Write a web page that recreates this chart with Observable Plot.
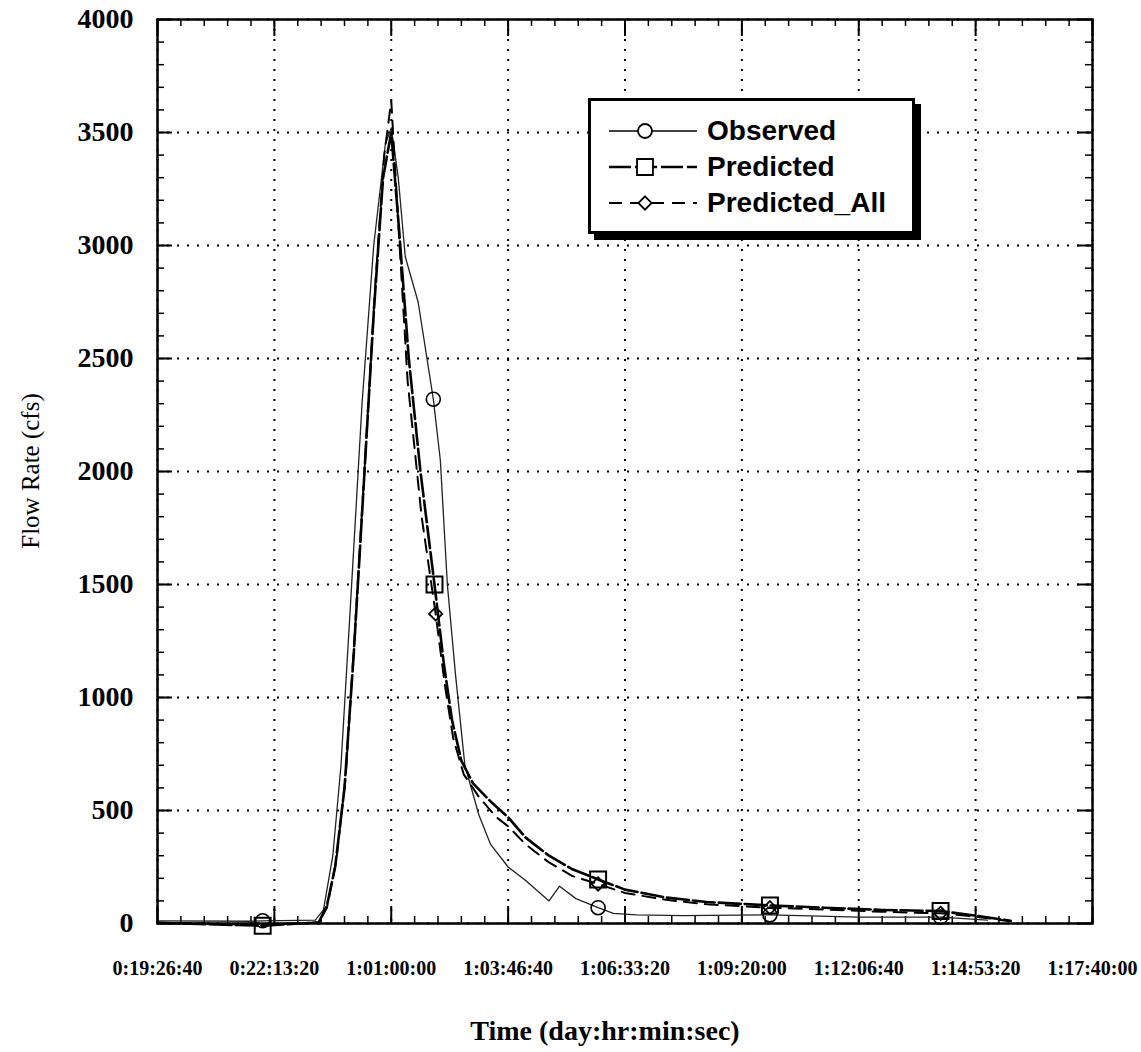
<!DOCTYPE html>
<html><head><meta charset="utf-8">
<script src="https://cdn.jsdelivr.net/npm/d3@7"></script>
<script src="https://cdn.jsdelivr.net/npm/@observablehq/plot@0.6"></script>
<style>
body{margin:0;background:#fff;}
#wrap{position:relative;width:1141px;height:1052px;}
#legend{position:absolute;left:588px;top:98px;width:321px;height:130px;border:3px solid #000;background:#fff;box-shadow:6px 6px 0 #000;font-family:"Liberation Sans",Arial,sans-serif;font-weight:bold;font-size:28px;color:#000;}
.row{position:absolute;left:0;height:34px;display:flex;align-items:center;}
.row svg{position:absolute;left:14px;top:0;}
.row span{position:absolute;left:116px;white-space:nowrap;line-height:34px;top:0;}
</style></head>
<body>
<div id="wrap"><div id="chart"></div><div id="legend"></div></div>
<script>
// ---- data (time in seconds since day 0, flow in cfs) ----
const xTicks = [70000, 80000, 90000, 100000, 110000, 120000, 130000, 140000, 150000];
const yTicks = [0, 500, 1000, 1500, 2000, 2500, 3000, 3500, 4000];
const xMinor = d3.range(70000, 150001, 2000);
const yMinor = d3.range(0, 4001, 100);

const tObs = [70000, 78000, 79000, 83500, 84200, 85000, 85700, 86500, 87500, 88500, 89500, 90000, 90600, 91200, 92300, 93600, 94200, 94800, 95500, 96300, 97500, 98500, 100000, 101500, 102600, 103500, 104400, 105800, 107700, 109000, 111000, 115000, 122400, 130000, 137000, 141000];
const qObs = [12, 10, 12, 15, 60, 300, 700, 1400, 2300, 3000, 3450, 3520, 3300, 2950, 2750, 2320, 2050, 1500, 1100, 700, 480, 350, 250, 190, 140, 100, 165, 110, 70, 45, 38, 35, 38, 28, 28, 15];
const obsMarkers = [79000, 93600, 107700, 122400, 137000];

const tPred = [70000, 79000, 83800, 84500, 85200, 86000, 86800, 87600, 88500, 89300, 90000, 90700, 91500, 92500, 93700, 94500, 95200, 96000, 97000, 98500, 100000, 101500, 103500, 105500, 107700, 110000, 113500, 117000, 122400, 127000, 132000, 137000, 140000, 143000];
const qPred = [3, -10, 5, 80, 250, 600, 1200, 1900, 2700, 3300, 3500, 3050, 2500, 2000, 1500, 1150, 900, 720, 620, 540, 470, 380, 300, 240, 195, 150, 115, 95, 80, 70, 60, 55, 35, 12];
const predMarkers = [79000, 93700, 107700, 122400, 137000];

const tAll = [70000, 79000, 83800, 84500, 85300, 86100, 86900, 87700, 88600, 89400, 90000, 90600, 91400, 92600, 93800, 94600, 95300, 96200, 97500, 99000, 100000, 101500, 103500, 105500, 107700, 110000, 113500, 117000, 122400, 127000, 132000, 137000, 140000, 143000];
const qAll = [3, -5, 5, 70, 280, 650, 1300, 2000, 2800, 3400, 3640, 3100, 2400, 1800, 1370, 1050, 820, 660, 560, 470, 430, 350, 270, 210, 175, 135, 105, 85, 70, 62, 52, 45, 30, 10];
const allMarkers = [93800, 107700, 122400, 137000];

const seriesNames = ["Observed", "Predicted", "Predicted_All"];
const xLabel = "Time (day:hr:min:sec)";
const yLabel = "Flow Rate (cfs)";

// ---- build tables ----
const rows = (ts, qs) => ts.map((t, i) => ({t, q: qs[i]}));
const obs = rows(tObs, qObs), pred = rows(tPred, qPred), all = rows(tAll, qAll);
const pick = (data, m) => data.filter(d => m.includes(d.t));

const pad = n => String(n).padStart(2, "0");
const fmt = t => {
  const d = Math.floor(t / 86400); let r = t % 86400;
  const h = Math.floor(r / 3600); r %= 3600;
  const m = Math.floor(r / 60), s = r % 60;
  return `${d}:${pad(h)}:${pad(m)}:${pad(s)}`;
};

const W = 1141, H = 1052, mL = 157, mR = 49, mT = 19, mB = 129;
const pw = W - mL - mR, ph = H - mT - mB;
const serif = "Liberation Serif, Times New Roman, serif";
const grid = {stroke: "#000", strokeOpacity: 1, strokeWidth: 2, strokeDasharray: "2,8"};
const tk = {stroke: "#000", strokeWidth: 1.5};

const chart = Plot.plot({
  width: W, height: H,
  marginLeft: mL, marginRight: mR, marginTop: mT, marginBottom: mB,
  style: {background: "#fff", color: "#000"},
  x: {domain: [70000, 150000]},
  y: {domain: [0, 4000]},
  marks: [
    Plot.gridX(xTicks, grid),
    Plot.gridY(yTicks, grid),
    // inward minor ticks
    Plot.tickY(yMinor, {y: d => d, ...tk, insetRight: pw - 7}),
    Plot.tickY(yMinor, {y: d => d, ...tk, insetLeft: pw - 7}),
    Plot.tickX(xMinor, {x: d => d, ...tk, insetTop: ph - 7}),
    Plot.tickX(xMinor, {x: d => d, ...tk, insetBottom: ph - 7}),
    // inward major ticks
    Plot.tickY(yTicks, {y: d => d, ...tk, strokeWidth: 2, insetRight: pw - 15}),
    Plot.tickY(yTicks, {y: d => d, ...tk, strokeWidth: 2, insetLeft: pw - 15}),
    Plot.tickX(xTicks, {x: d => d, ...tk, strokeWidth: 2, insetTop: ph - 17}),
    Plot.tickX(xTicks, {x: d => d, ...tk, strokeWidth: 2, insetBottom: ph - 17}),
    // series
    Plot.line(obs, {x: "t", y: "q", stroke: "#222", strokeWidth: 1.3}),
    Plot.line(pred, {x: "t", y: "q", stroke: "#000", strokeWidth: 2.6, strokeDasharray: "22,4"}),
    Plot.line(all, {x: "t", y: "q", stroke: "#000", strokeWidth: 2, strokeDasharray: "13,8"}),
    Plot.dot(pick(obs, obsMarkers), {x: "t", y: "q", symbol: "circle", r: 7, stroke: "#000", strokeWidth: 1.6, fill: "none"}),
    Plot.dot(pick(pred, predMarkers), {x: "t", y: "q", symbol: "square", r: 9, stroke: "#000", strokeWidth: 2, fill: "none"}),
    Plot.dot(pick(all, allMarkers), {x: "t", y: "q", symbol: "diamond2", r: 6, stroke: "#000", strokeWidth: 1.8, fill: "none"}),
    Plot.frame({stroke: "#000", strokeWidth: 2.5}),
    Plot.axisX(xTicks, {tickSize: 0, tickPadding: 37, tickFormat: fmt, fontSize: 20, fontWeight: "bold",
      fontFamily: serif, fill: "#000", label: null}),
    Plot.axisY(yTicks, {tickSize: 0, tickPadding: 24, tickFormat: d => String(d), fontSize: 28, fontWeight: "bold",
      fontFamily: serif, fill: "#000", label: null})
  ]
});
document.getElementById("chart").appendChild(chart);

// axis titles
const svg = d3.select(chart);
svg.append("text")
  .attr("x", 605).attr("y", 1040)
  .attr("text-anchor", "middle").attr("fill", "#000")
  .attr("font-family", serif).attr("font-size", 28).attr("font-weight", "bold")
  .text(xLabel);
svg.append("text")
  .attr("transform", `translate(30,${mT + ph / 2}) rotate(-90)`)
  .attr("text-anchor", "middle").attr("dominant-baseline", "central").attr("fill", "#000")
  .attr("font-family", serif).attr("font-size", 25)
  .text(yLabel);

// legend
const legend = d3.select("#legend");
const styles = [
  {dash: null, width: 1.3, sym: "circle"},
  {dash: "22,4", width: 2.6, sym: "square"},
  {dash: "13,8", width: 2, sym: "diamond2"}
];
seriesNames.forEach((name, i) => {
  const row = legend.append("div").attr("class", "row").style("top", (13 + i * 36) + "px").style("width", "100%");
  const s = row.append("svg").attr("width", 100).attr("height", 34);
  const st = styles[i];
  s.append("line").attr("x1", 4).attr("x2", 92).attr("y1", 17).attr("y2", 17)
    .attr("stroke", "#000").attr("stroke-width", st.width).attr("stroke-dasharray", st.dash);
  const symType = {circle: d3.symbolCircle, square: d3.symbolSquare, diamond2: d3.symbolDiamond2}[st.sym];
  const r = st.sym === "circle" ? 7 : st.sym === "square" ? 9 : 6;
  s.append("path").attr("transform", "translate(40,17)")
    .attr("d", d3.symbol(symType, Math.PI * r * r)())
    .attr("fill", "#fff").attr("stroke", "#000").attr("stroke-width", 1.8);
  row.append("span").text(name);
});
</script>
</body></html>
